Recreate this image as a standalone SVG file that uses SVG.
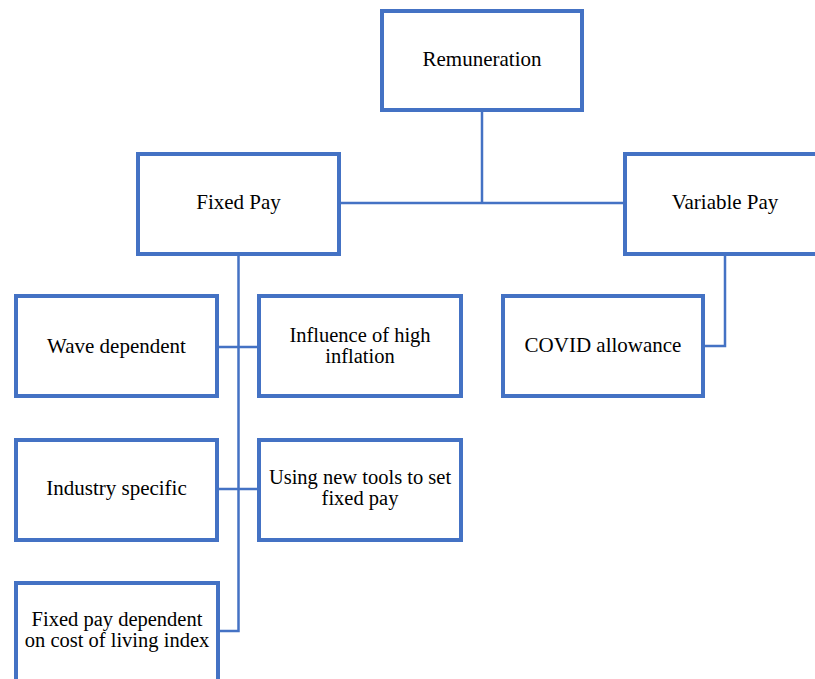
<svg xmlns="http://www.w3.org/2000/svg" width="815" height="679" viewBox="0 0 815 679">
<style>
.box{fill:#fff;stroke:#4472C4;stroke-width:4}
.ln{fill:none;stroke:#4472C4;stroke-width:2.5}
.t{font-family:"Liberation Serif","DejaVu Serif","Times New Roman",serif;font-size:21px;fill:#000;text-anchor:middle}
.t2{font-size:20.5px}
</style>
<rect width="815" height="679" fill="#fff"/>
<g id="connectors">
<path class="ln" d="M482,112 V203"/>
<path class="ln" d="M340,203 H623"/>
<path class="ln" d="M238.5,256 V631 H218"/>
<path class="ln" d="M219,347 H258"/>
<path class="ln" d="M219,489 H258"/>
<path class="ln" d="M725,256 V346 H705"/>
</g>
<g id="remuneration"><rect class="box" x="382" y="11" width="200" height="99"/><text class="t" x="482" y="66">Remuneration</text></g>
<g id="fixed-pay"><rect class="box" x="138" y="154" width="201" height="100"/><text class="t" x="238.5" y="209">Fixed Pay</text></g>
<g id="variable-pay"><rect class="box" x="625" y="154" width="200" height="100"/><text class="t" x="725" y="209">Variable Pay</text></g>
<g id="wave-dependent"><rect class="box" x="16" y="296" width="201" height="100"/><text class="t" x="116.5" y="353">Wave dependent</text></g>
<g id="influence"><rect class="box" x="259" y="296" width="202" height="100"/><text class="t t2" x="360" y="341.5">Influence of high</text><text class="t t2" x="360" y="362.5">inflation</text></g>
<g id="covid"><rect class="box" x="503" y="296" width="200" height="100"/><text class="t" x="603" y="352">COVID allowance</text></g>
<g id="industry-specific"><rect class="box" x="16" y="440" width="201" height="100"/><text class="t" x="116.5" y="495">Industry specific</text></g>
<g id="new-tools"><rect class="box" x="259" y="440" width="202" height="100"/><text class="t t2" x="360" y="483.5">Using new tools to set</text><text class="t t2" x="360" y="504.5">fixed pay</text></g>
<g id="cost-of-living"><rect class="box" x="16" y="583" width="202" height="100"/><text class="t t2" x="117" y="625.5">Fixed pay dependent</text><text class="t t2" x="117" y="646.5">on cost of living index</text></g>
</svg>
